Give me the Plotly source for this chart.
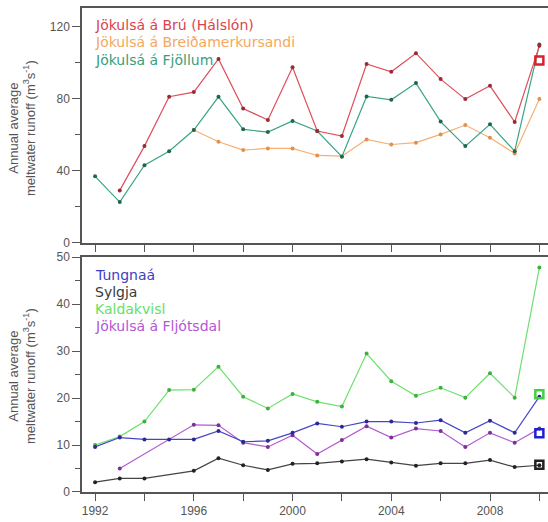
import plotly.graph_objects as go

years = list(range(1992, 2011))

# Top panel series (m3/s)
bru = [None, 29.2, 53.8, 81.2, 83.8, 102.2, 74.7, 68.3, 97.6, 62.2, 59.4, 99.4, 95.1, 105.4, 91.0, 79.9, 87.3, 67.2, 109.5]
breida = [None, None, None, None, 62.7, 56.2, 51.6, 52.5, 52.5, 48.6, 48.2, 57.5, 54.7, 55.7, 60.3, 65.5, 58.5, 49.7, 79.9]
fjollum = [37.0, 22.7, 43.2, 51.0, 62.7, 81.2, 63.1, 61.6, 67.8, 62.2, 47.9, 81.4, 79.5, 88.8, 67.4, 53.8, 65.9, 51.0, 110.2]

# Bottom panel series (m3/s)
tungnaa = [9.6, 11.6, 11.2, 11.2, 11.2, 13.0, 10.7, 10.9, 12.6, 14.6, 13.9, 15.0, 15.0, 14.7, 15.3, 12.6, 15.2, 12.6, 20.3]
sylgja = [2.1, 2.9, 2.9, None, 4.5, 7.2, 5.7, 4.7, 6.0, 6.1, 6.5, 7.0, 6.3, 5.6, 6.1, 6.1, 6.8, 5.3, 5.7]
kaldakvisl = [10.0, 11.8, 15.0, 21.7, 21.8, 26.7, 20.3, 17.8, 20.9, 19.2, 18.2, 29.5, 23.6, 20.5, 22.2, 20.1, 25.3, 20.1, 47.8]
fljotsdal = [None, 5.0, None, None, 14.3, 14.2, 10.5, 9.6, 12.1, 8.1, 11.1, 14.0, 11.6, 13.5, 13.0, 9.6, 12.6, 10.5, 13.5]

# 2010 square markers
sq_year = [2010]
sq_bru = [101.3]
sq_kalda = [20.8]
sq_tung = [12.5]
sq_sylg = [5.8]

top_names = ["Jökulsá á Brú (Hálslón)", "Jökulsá á Breiðamerkursandi", "Jökulsá á Fjöllum"]
bot_names = ["Tungnaá", "Sylgja", "Kaldakvisl", "Jökulsá á Fljótsdal"]

C_RED, C_RED_D = "#de4f5b", "#9c2a35"
C_ORA, C_ORA_D = "#f6b070", "#e09050"
C_TEA, C_TEA_D = "#3aa583", "#1f6650"
C_BLU, C_BLU_D = "#4545c8", "#2a2a90"
C_BLK, C_BLK_D = "#444444", "#222222"
C_GRN, C_GRN_D = "#6fe06f", "#3fb03f"
C_PUR, C_PUR_D = "#b35bd0", "#7a3095"

fig = go.Figure()

def line(x, y, c, cd, xa, ya):
    fig.add_trace(go.Scatter(x=x, y=y, mode="lines+markers", connectgaps=True,
                             line=dict(color=c, width=1.2),
                             marker=dict(color=cd, size=4),
                             xaxis=xa, yaxis=ya, showlegend=False))

line(years, breida, C_ORA, C_ORA_D, "x", "y")
line(years, fjollum, C_TEA, C_TEA_D, "x", "y")
line(years, bru, C_RED, C_RED_D, "x", "y")

line(years, sylgja, C_BLK, C_BLK_D, "x2", "y2")
line(years, fljotsdal, C_PUR, C_PUR_D, "x2", "y2")
line(years, kaldakvisl, C_GRN, C_GRN_D, "x2", "y2")
line(years, tungnaa, C_BLU, C_BLU_D, "x2", "y2")

def square(y, c, xa, ya):
    fig.add_trace(go.Scatter(x=sq_year, y=y, mode="markers",
                             marker=dict(symbol="square-open", size=8, color=c, line=dict(width=2.5, color=c)),
                             xaxis=xa, yaxis=ya, showlegend=False))

square(sq_bru, "#d8202e", "x", "y")
square(sq_kalda, "#40d040", "x2", "y2")
square(sq_tung, "#2020d0", "x2", "y2")
square(sq_sylg, "#222222", "x2", "y2")

axcol = "#555555"
tickfont = dict(family="Liberation Sans, Arial, sans-serif", size=12, color="#555555")

xcommon = dict(range=[1991.47, 2010.35], showline=True, linecolor=axcol, linewidth=1.5, mirror=True,
               ticks="outside", ticklen=7, tickcolor=axcol, tickwidth=1, dtick=4, tick0=1992,
               minor=dict(dtick=2, tick0=1992, ticks="outside", ticklen=7, tickcolor=axcol),
               showgrid=False, zeroline=False, tickfont=tickfont)
ycommon = dict(showline=True, linecolor=axcol, linewidth=1.5, mirror=False,
               ticks="outside", ticklen=8, tickcolor=axcol, tickwidth=1,
               showgrid=False, zeroline=False, tickfont=tickfont)

fig.update_layout(
    width=548, height=522,
    margin=dict(l=82, r=0, t=8, b=30),
    paper_bgcolor="white", plot_bgcolor="white",
    xaxis=dict(**xcommon, anchor="y", showticklabels=False),
    yaxis=dict(**ycommon, domain=[0.5145, 1], range=[0, 130.5], dtick=40, tick0=0,
               minor=dict(dtick=20, tick0=0, ticks="outside", ticklen=5, tickcolor=axcol)),
    xaxis2=dict(**xcommon, anchor="y2", showticklabels=True),
    yaxis2=dict(**ycommon, domain=[0, 0.4855], range=[0, 50.05], dtick=10, tick0=0,
                minor=dict(dtick=5, tick0=0, ticks="outside", ticklen=5, tickcolor=axcol)),
)

legfont = "DejaVu Sans, sans-serif"
def pix_to_paper(py):
    return (492 - py) / 484.0

annots = []
for name, col, py in zip(top_names, ["#d9434e", "#f4a85e", "#3a9e7e"], [25, 42, 60]):
    annots.append(dict(text=name, xref="paper", yref="paper", x=(93 - 82) / 466.0, y=pix_to_paper(py),
                       xanchor="left", yanchor="middle", showarrow=False,
                       font=dict(family=legfont, size=14, color=col)))
for name, col, py in zip(bot_names, ["#4040c0", "#3a3a3a", "#66e066", "#b455d6"], [275, 292, 309, 326]):
    annots.append(dict(text=name, xref="paper", yref="paper", x=(93 - 82) / 466.0, y=pix_to_paper(py),
                       xanchor="left", yanchor="middle", showarrow=False,
                       font=dict(family=legfont, size=14, color=col)))

ytitle = "Annual average<br>meltwater runoff (m<sup>3</sup>s<sup>-1</sup>)"
for py in [128, 376]:
    annots.append(dict(text=ytitle, xref="paper", yref="paper", x=0, y=pix_to_paper(py),
                       xshift=-(82 - 22), xanchor="center", yanchor="middle", textangle=-90,
                       showarrow=False,
                       font=dict(family="Liberation Sans, Arial, sans-serif", size=13, color="#555555")))

fig.update_layout(annotations=annots)

fig.write_html("out.html")
